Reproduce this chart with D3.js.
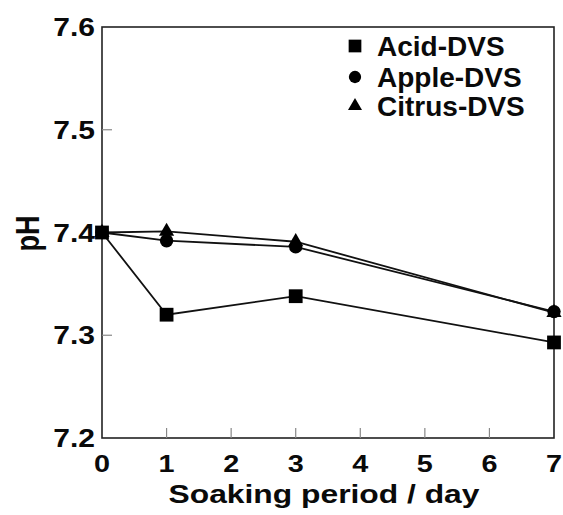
<!DOCTYPE html>
<html>
<head>
<meta charset="utf-8">
<script src="https://cdn.jsdelivr.net/npm/d3@7"></script>
<style>
  html, body { margin: 0; padding: 0; background: #fff; }
  text { font-family: "Liberation Sans", Arial, sans-serif; font-weight: bold; fill: #0a0a0a; }
</style>
</head>
<body>
<svg id="chart" width="563" height="515"></svg>
<script>
// Soaking time in days
const days = [0, 1, 3, 7];
// pH readings per formulation
const acidDVS   = [7.400, 7.320, 7.338, 7.293];
const appleDVS  = [7.400, 7.392, 7.386, 7.323];
const citrusDVS = [7.400, 7.401, 7.391, 7.322];
const seriesNames = ["Acid-DVS", "Apple-DVS", "Citrus-DVS"];
const xTicks = [0, 1, 2, 3, 4, 5, 6, 7];
const yTicks = [7.2, 7.3, 7.4, 7.5, 7.6];

const svg = d3.select("#chart");
const m = { left: 102, right: 554, top: 27, bottom: 438 };
const wide = 1.2; // horizontal stretch of the axis lettering

const x = d3.scaleLinear().domain([0, 7]).range([m.left, m.right]);
const y = d3.scaleLinear().domain([7.2, 7.6]).range([m.bottom, m.top]);

// Frame
svg.append("rect")
  .attr("x", m.left).attr("y", m.top)
  .attr("width", m.right - m.left).attr("height", m.bottom - m.top)
  .attr("fill", "none").attr("stroke", "#222").attr("stroke-width", 1.6);

// Inward ticks
svg.append("g").selectAll("line").data(xTicks.slice(1, -1)).join("line")
  .attr("x1", d => x(d)).attr("x2", d => x(d))
  .attr("y1", m.bottom).attr("y2", m.bottom - 10)
  .attr("stroke", "#888").attr("stroke-width", 1.2);
svg.append("g").selectAll("line").data(yTicks.slice(1, -1)).join("line")
  .attr("x1", m.left).attr("x2", m.left + 10)
  .attr("y1", d => y(d)).attr("y2", d => y(d))
  .attr("stroke", "#888").attr("stroke-width", 1.2);

// Tick labels (stretched sideways)
svg.append("g").selectAll("text").data(xTicks).join("text")
  .attr("transform", d => `translate(${x(d)},472) scale(${wide},1)`)
  .attr("text-anchor", "middle").attr("font-size", 24)
  .text(d => d);
svg.append("g").selectAll("text").data(yTicks).join("text")
  .attr("transform", d => `translate(95,${y(d) + 9}) scale(${wide},1)`)
  .attr("text-anchor", "end").attr("font-size", 25)
  .text(d => d.toFixed(1));

// Axis titles
svg.append("text")
  .attr("transform", `translate(324,503) scale(${wide},1)`)
  .attr("text-anchor", "middle").attr("font-size", 26.5)
  .text("Soaking period / day");
svg.append("text")
  .attr("transform", `translate(39,${y(7.4) + 1}) scale(${wide},1) rotate(-90)`)
  .attr("text-anchor", "middle").attr("font-size", 27)
  .text("pH");

// Series
const series = [
  { name: seriesNames[0], values: acidDVS, shape: d3.symbolSquare, size: 190 },
  { name: seriesNames[1], values: appleDVS, shape: d3.symbolCircle, size: 140 },
  { name: seriesNames[2], values: citrusDVS, shape: d3.symbolTriangle, size: 100 }
];

const line = d3.line().x(d => x(d[0])).y(d => y(d[1]));
series.forEach(s => {
  const pts = days.map((d, i) => [d, s.values[i]]);
  svg.append("path").datum(pts)
    .attr("d", line).attr("fill", "none")
    .attr("stroke", "#111").attr("stroke-width", 1.8);
});
// Markers, square series drawn last
[series[2], series[1], series[0]].forEach(s => {
  svg.append("g").selectAll("path").data(days.map((d, i) => [d, s.values[i]])).join("path")
    .attr("transform", d => `translate(${x(d[0])},${y(d[1])})`)
    .attr("d", d3.symbol().type(s.shape).size(s.size))
    .attr("fill", "#000");
});

// Legend
const lg = svg.append("g");
const legendY = [46, 77, 106];
series.forEach((s, i) => {
  const yy = legendY[i];
  lg.append("path")
    .attr("transform", `translate(355,${yy})`)
    .attr("d", d3.symbol().type(s.shape).size(s.size * 0.85))
    .attr("fill", "#000");
  lg.append("text")
    .attr("x", 377).attr("y", yy + 10)
    .attr("font-size", 28)
    .text(s.name);
});
</script>
</body>
</html>
